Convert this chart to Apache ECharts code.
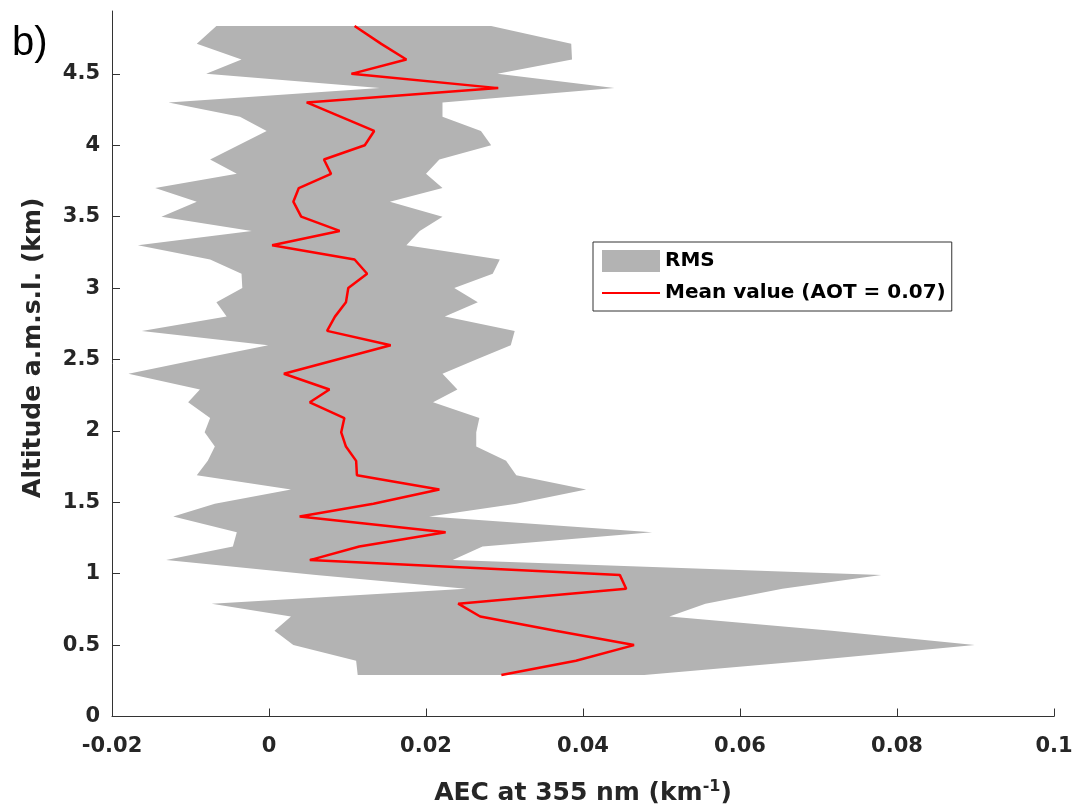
<!DOCTYPE html>
<html>
<head>
<meta charset="utf-8">
<script src="https://cdn.jsdelivr.net/npm/echarts@6/dist/echarts.min.js"></script>
<style>
html,body{margin:0;padding:0;background:#fff;}
#chart{width:1077px;height:811px;}
</style>
</head>
<body>
<div id="chart"></div>
<script>
// Altitude levels (km a.m.s.l.)
const altitude = [0.29, 0.39, 0.50, 0.60, 0.70, 0.79, 0.895, 0.99, 1.095, 1.19,
  1.29, 1.40, 1.49, 1.59, 1.69, 1.79, 1.89, 1.99, 2.09, 2.20,
  2.29, 2.40, 2.50, 2.60, 2.70, 2.80, 2.90, 3.00, 3.10, 3.20,
  3.30, 3.40, 3.50, 3.605, 3.70, 3.80, 3.90, 4.00, 4.10, 4.20,
  4.30, 4.40, 4.50, 4.60, 4.71, 4.835];
// Mean AEC at 355 nm (km^-1)
const meanAEC = [0.0296, 0.0391, 0.0465, 0.0365, 0.0269, 0.0241, 0.0455, 0.0447, 0.0052, 0.0115,
  0.0225, 0.0039, 0.0133, 0.0217, 0.0112, 0.0111, 0.0098, 0.0092, 0.0096, 0.0052,
  0.0077, 0.0019, 0.0087, 0.0155, 0.0074, 0.0084, 0.0098, 0.0101, 0.0125, 0.0109,
  0.0004, 0.0090, 0.0041, 0.0031, 0.0038, 0.0079, 0.0070, 0.0122, 0.0134, 0.0091,
  0.0048, 0.0292, 0.0105, 0.0175, 0.0143, 0.0109];
// RMS band lower edge
const rmsLow = [0.0113, 0.0111, 0.0031, 0.0007, 0.0028, -0.0073, 0.0251, 0.0060, -0.0131, -0.0046,
  -0.0041, -0.0122, -0.0069, 0.0028, -0.0092, -0.0078, -0.0069, -0.0082, -0.0075, -0.0103,
  -0.0088, -0.0179, -0.0091, -0.0001, -0.0162, -0.0054, -0.0067, -0.0034, -0.0035, -0.0075,
  -0.0167, -0.0022, -0.0137, -0.0092, -0.0145, -0.0041, -0.0075, -0.0039, -0.0003, -0.0037,
  -0.0128, 0.0141, -0.0080, -0.0035, -0.0092, -0.0067];
// RMS band upper edge
const rmsHigh = [0.0478, 0.0687, 0.0899, 0.0717, 0.0510, 0.0556, 0.0654, 0.0780, 0.0234, 0.0272,
  0.0488, 0.0204, 0.0315, 0.0404, 0.0315, 0.0302, 0.0264, 0.0264, 0.0268, 0.0209,
  0.0240, 0.0221, 0.0264, 0.0308, 0.0313, 0.0224, 0.0266, 0.0236, 0.0285, 0.0294,
  0.0175, 0.0192, 0.0221, 0.0154, 0.0221, 0.0200, 0.0217, 0.0283, 0.0270, 0.0221,
  0.0221, 0.0440, 0.0291, 0.0386, 0.0385, 0.0283];

const FONT = '"DejaVu Sans", sans-serif';
const chart = echarts.init(document.getElementById('chart'), null, {renderer: 'canvas'});

const option = {
  animation: false,
  backgroundColor: '#ffffff',
  grid: {left: 112, right: 23, top: 11, bottom: 94, containLabel: false},
  xAxis: {
    type: 'value', min: -0.02, max: 0.1, interval: 0.02,
    name: 'AEC at 355 nm (km{sup|-1})',
    nameLocation: 'middle', nameGap: 62,
    nameTextStyle: {
      fontFamily: FONT, fontWeight: 'bold', fontSize: 25, color: '#262626',
      rich: {sup: {fontFamily: FONT, fontWeight: 'bold', fontSize: 16, color: '#262626', verticalAlign: 'top', padding: [0, 0, 14, 0]}}
    },
    axisLine: {show: true, onZero: false, lineStyle: {color: '#333', width: 1}},
    axisTick: {show: true, inside: true, length: 8, lineStyle: {color: '#333'}},
    splitLine: {show: false},
    axisLabel: {
      fontFamily: FONT, fontWeight: 'bold', fontSize: 21, color: '#262626', margin: 20,
      formatter: function (v) { return String(+v.toFixed(2)); }
    }
  },
  yAxis: {
    type: 'value', min: 0, max: 4.94, interval: 0.5,
    name: 'Altitude a.m.s.l. (km)',
    nameLocation: 'middle', nameGap: 66,
    nameTextStyle: {fontFamily: FONT, fontWeight: 'bold', fontSize: 25, color: '#262626', padding: [0, 0, 0, 32]},
    axisLine: {show: true, onZero: false, lineStyle: {color: '#333', width: 1}},
    axisTick: {show: true, inside: true, length: 8, lineStyle: {color: '#333'}},
    splitLine: {show: false},
    axisLabel: {
      fontFamily: FONT, fontWeight: 'bold', fontSize: 21, color: '#262626', margin: 12,
      showMaxLabel: false,
      formatter: function (v) { return String(+v.toFixed(2)); }
    }
  },
  legend: {
    orient: 'vertical', left: 593, top: 242,
    padding: [8, 6, 8, 8], itemGap: 11, itemWidth: 58, itemHeight: 22,
    backgroundColor: '#ffffff', borderColor: '#333', borderWidth: 1,
    selectedMode: false,
    textStyle: {fontFamily: FONT, fontWeight: 'bold', fontSize: 20, color: '#000'},
    data: [
      {name: 'RMS', icon: 'rect'},
      {name: 'Mean value (AOT = 0.07)', itemStyle: {opacity: 0, borderWidth: 0}}
    ]
  },
  graphic: [{
    type: 'text', left: 12, top: 24,
    style: {text: 'b)', fontFamily: '"Liberation Sans", Arial, sans-serif', fontSize: 40, fill: '#000'}
  }],
  series: [
    {
      name: 'RMS', type: 'custom', silent: true, z: 1,
      itemStyle: {color: '#b3b3b3'},
      encode: {x: [0, 1], y: 2},
      data: altitude.map(function (a, i) { return [rmsLow[i], rmsHigh[i], a]; }),
      renderItem: function (params, api) {
        if (params.dataIndex !== 0) return null;
        const pts = [];
        for (let i = 0; i < altitude.length; i++) pts.push(api.coord([rmsHigh[i], altitude[i]]));
        for (let i = altitude.length - 1; i >= 0; i--) pts.push(api.coord([rmsLow[i], altitude[i]]));
        return {type: 'polygon', shape: {points: pts}, style: {fill: '#b3b3b3', stroke: null}};
      }
    },
    {
      name: 'Mean value (AOT = 0.07)', type: 'line', z: 3,
      showSymbol: false, symbol: 'none', silent: true,
      lineStyle: {color: '#ff0000', width: 2.5},
      itemStyle: {color: '#ff0000'},
      data: altitude.map(function (a, i) { return [meanAEC[i], a]; })
    }
  ]
};
chart.setOption(option);
</script>
</body>
</html>
